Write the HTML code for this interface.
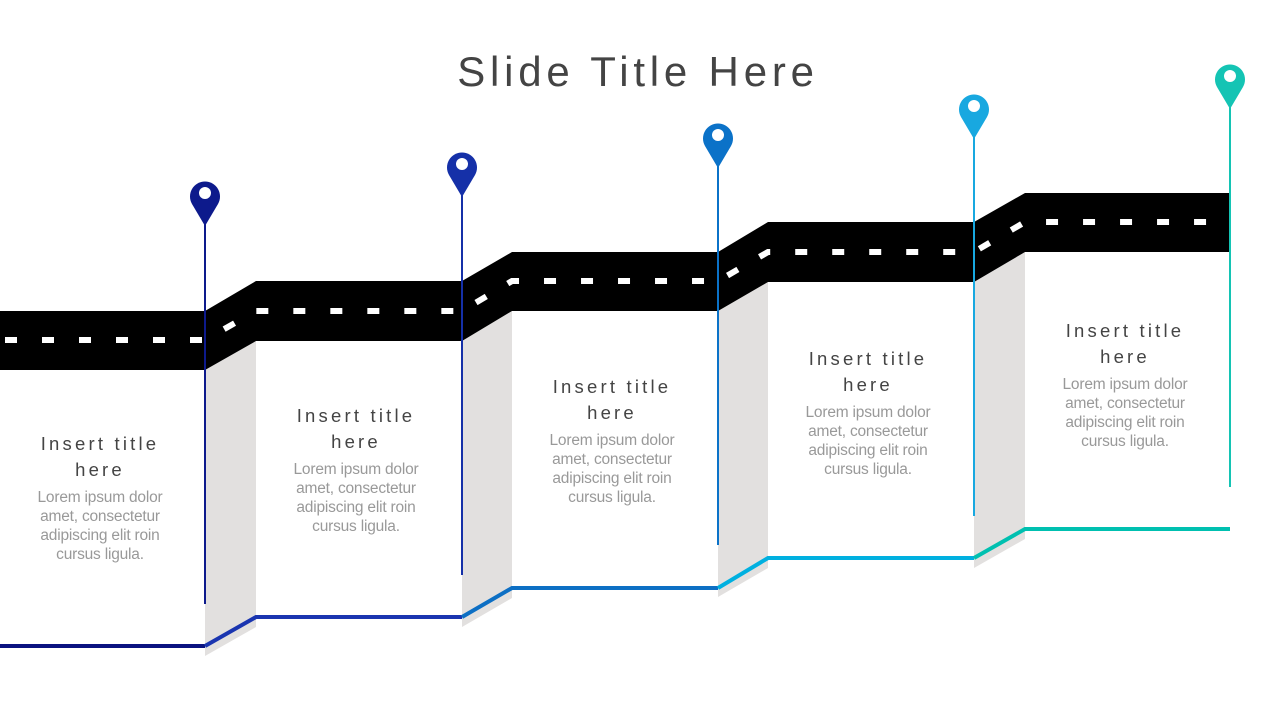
<!DOCTYPE html>
<html><head><meta charset="utf-8"><style>
body{margin:0;width:1280px;height:720px;background:#fff;overflow:hidden;font-family:"Liberation Sans",sans-serif}
.t{position:absolute;width:200px;text-align:center}
.h{font-size:18.5px;letter-spacing:3.2px;color:#444;line-height:26px}
.b{font-size:15.5px;color:#999;line-height:19px;margin-top:5px;letter-spacing:-0.2px}
</style></head><body>
<svg width="1280" height="720" style="position:absolute;left:0;top:0">
<text x="638" y="86" text-anchor="middle" font-family="Liberation Sans" font-size="42" letter-spacing="4.8" fill="#444">Slide Title Here</text>
<g fill="#e2e0df">
<polygon points="205,370 256,341 256,627 205,656"/>
<polygon points="462,341 512,311 512,598 462,627"/>
<polygon points="718,311 768,282 768,568 718,597"/>
<polygon points="974,282 1025,252 1025,539 974,568"/>
</g>
<polygon fill="#000" points="0,311 205,311 256,281 462,281 512,252 718,252 768,222 974,222 1025,193 1230,193 1230,252 1025,252 974,282 768,282 718,311 512,311 462,341 256,341 205,370 0,370"/>
<polyline fill="none" stroke="#fff" stroke-width="6" stroke-dasharray="12 25" stroke-dashoffset="-5" points="0,340 205,340 256,311 462,311 512,281 718,281 768,252 974,252 1025,222 1230,222"/>
<g fill="none" stroke-width="4">
<polyline stroke="#0a1280" points="0,646 205,646"/>
<polyline stroke="#1a35b0" points="205,646 256,617 462,617"/>
<polyline stroke="#0d6fc4" points="462,617 512,588 718,588"/>
<polyline stroke="#00b0e0" points="718,588 768,558 974,558"/>
<polyline stroke="#00c0b0" points="974,558 1025,529 1230,529"/>
</g>
<g stroke-width="2">
<line x1="205" y1="222" x2="205" y2="604" stroke="#0d1a8c"/>
<line x1="462" y1="193" x2="462" y2="575" stroke="#1530a8"/>
<line x1="718" y1="164" x2="718" y2="545" stroke="#0b72c8"/>
<line x1="974" y1="135" x2="974" y2="516" stroke="#18a8e0"/>
<line x1="1230" y1="105" x2="1230" y2="487" stroke="#14c4b4"/>
</g>
<g>
<path fill="#0d1a8c" d="M205,226 L192,204 A15 15 0 1 1 218,204 Z"/><circle cx="205" cy="193" r="6" fill="#fff"/>
<path fill="#1530a8" d="M462,197 L449,175 A15 15 0 1 1 475,175 Z"/><circle cx="462" cy="164" r="6" fill="#fff"/>
<path fill="#0b72c8" d="M718,168 L705,146 A15 15 0 1 1 731,146 Z"/><circle cx="718" cy="135" r="6" fill="#fff"/>
<path fill="#18a8e0" d="M974,139 L961,117 A15 15 0 1 1 987,117 Z"/><circle cx="974" cy="106" r="6" fill="#fff"/>
<path fill="#14c4b4" d="M1230,109 L1217,87 A15 15 0 1 1 1243,87 Z"/><circle cx="1230" cy="76" r="6" fill="#fff"/>
</g>
</svg>
<div class="t" style="left:0;top:431px"><div class="h">Insert title<br>here</div><div class="b">Lorem ipsum dolor<br>amet, consectetur<br>adipiscing elit roin<br>cursus ligula.</div></div>
<div class="t" style="left:256px;top:403px"><div class="h">Insert title<br>here</div><div class="b">Lorem ipsum dolor<br>amet, consectetur<br>adipiscing elit roin<br>cursus ligula.</div></div>
<div class="t" style="left:512px;top:374px"><div class="h">Insert title<br>here</div><div class="b">Lorem ipsum dolor<br>amet, consectetur<br>adipiscing elit roin<br>cursus ligula.</div></div>
<div class="t" style="left:768px;top:346px"><div class="h">Insert title<br>here</div><div class="b">Lorem ipsum dolor<br>amet, consectetur<br>adipiscing elit roin<br>cursus ligula.</div></div>
<div class="t" style="left:1025px;top:318px"><div class="h">Insert title<br>here</div><div class="b">Lorem ipsum dolor<br>amet, consectetur<br>adipiscing elit roin<br>cursus ligula.</div></div>
</body></html>
